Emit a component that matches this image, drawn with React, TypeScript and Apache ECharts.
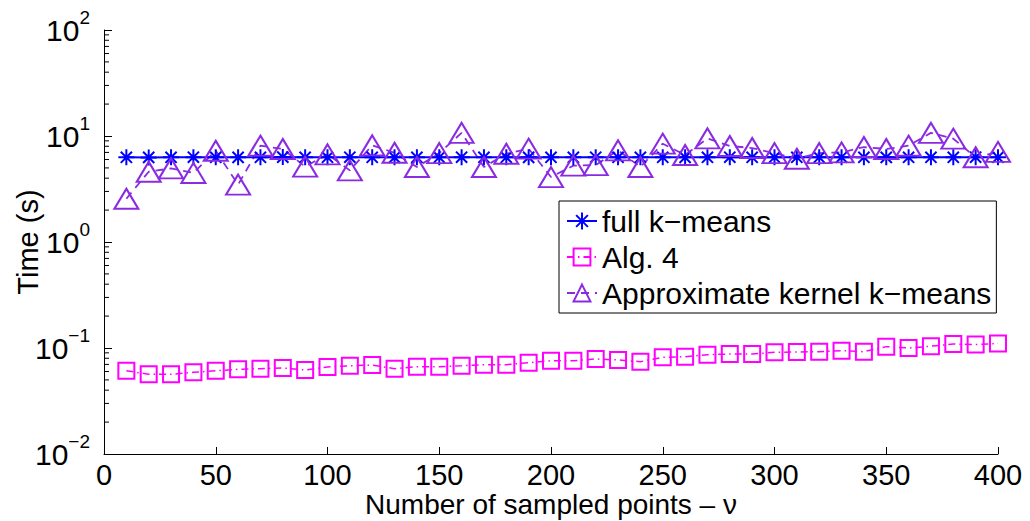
import { useEffect, useRef } from 'react';
import * as echarts from 'echarts';

// Number of sampled points (x axis)
const samplePoints = [
  10, 20, 30, 40, 50, 60, 70, 80, 90, 100,
  110, 120, 130, 140, 150, 160, 170, 180, 190, 200,
  210, 220, 230, 240, 250, 260, 270, 280, 290, 300,
  310, 320, 330, 340, 350, 360, 370, 380, 390, 400,
];

// Running time in seconds
const fullKMeans = [
  6.3, 6.28, 6.3, 6.31, 6.3, 6.29, 6.3, 6.32, 6.3, 6.3,
  6.31, 6.3, 6.29, 6.3, 6.3, 6.31, 6.3, 6.3, 6.29, 6.3,
  6.3, 6.31, 6.3, 6.3, 6.3, 6.29, 6.3, 6.31, 6.3, 6.3,
  6.3, 6.3, 6.31, 6.3, 6.29, 6.3, 6.3, 6.3, 6.31, 6.3,
];

const alg4 = [
  0.061, 0.0565, 0.0565, 0.059, 0.061, 0.063, 0.0638, 0.0648, 0.062, 0.0662,
  0.068, 0.069, 0.0638, 0.0667, 0.0667, 0.068, 0.0696, 0.0696, 0.0727, 0.0759,
  0.0759, 0.0788, 0.0771, 0.0743, 0.0817, 0.0828, 0.0865, 0.0877, 0.0877, 0.091,
  0.0916, 0.0923, 0.0944, 0.0923, 0.103, 0.1, 0.104, 0.109, 0.108, 0.11,
];

const approxKernel = [
  2.56, 4.6, 4.95, 4.48, 7.26, 3.48, 8.1, 7.54, 5.14, 6.72,
  4.74, 8.17, 6.95, 5.1, 6.9, 10.7, 5.1, 6.8, 7.59, 4.1,
  5.25, 5.32, 7.33, 5.1, 8.46, 6.62, 9.5, 8.05, 7.7, 6.9,
  6.1, 6.9, 7.0, 7.87, 7.54, 8.1, 10.7, 9.43, 6.3, 7.07,
];

// Minor ticks of the logarithmic time axis
const minorTickValues = [
  0.02, 0.03, 0.04, 0.05, 0.06, 0.07, 0.08, 0.09,
  0.2, 0.3, 0.4, 0.5, 0.6, 0.7, 0.8, 0.9,
  2, 3, 4, 5, 6, 7, 8, 9,
  20, 30, 40, 50, 60, 70, 80, 90,
];

const seriesNames = ['full k\u2212means', 'Alg. 4', 'Approximate kernel k\u2212means'];

const FONT = "'Liberation Sans', Arial, Helvetica, sans-serif";
const STAR = 'path://M0,-10L0,10M-10,0L10,0M-7,-7L7,7M-7,7L7,-7';

const pairs = (ys: number[]) => samplePoints.map((x, i) => [x, ys[i]]);

export default function App() {
  const ref = useRef<HTMLDivElement>(null);

  useEffect(() => {
    const chart = echarts.init(ref.current!, null, { renderer: 'svg' });
    chart.setOption({
      animation: false,
      backgroundColor: '#ffffff',
      textStyle: { fontFamily: FONT },
      grid: { left: 104, right: 32, top: 30, bottom: 67, containLabel: false, outerBoundsMode: 'none' },
      legend: {
        data: seriesNames,
        orient: 'vertical',
        left: 559,
        top: 201,
        itemWidth: 30,
        itemHeight: 21,
        itemGap: 6,
        padding: [5, 5, 5, 7],
        borderColor: '#000',
        borderWidth: 1,
        backgroundColor: '#fff',
        selectedMode: false,
        textStyle: { fontSize: 30, color: '#000', fontFamily: FONT },
      },
      xAxis: {
        type: 'value',
        min: 0,
        max: 400,
        interval: 50,
        name: 'Number of sampled points \u2013 \u03bd',
        nameLocation: 'middle',
        nameGap: 36,
        nameMoveOverlap: false,
        nameTextStyle: { fontSize: 28, color: '#000', fontFamily: FONT },
        axisLine: { lineStyle: { color: '#000', width: 1 } },
        axisTick: { inside: true, length: 7, lineStyle: { color: '#000' } },
        axisLabel: { fontSize: 29, color: '#000', margin: 6, fontFamily: FONT },
        splitLine: { show: false },
      },
      yAxis: {
        type: 'log',
        logBase: 10,
        min: 0.01,
        max: 100,
        name: 'Time (s)',
        nameLocation: 'middle',
        nameGap: 62,
        nameMoveOverlap: false,
        nameTextStyle: { fontSize: 29, color: '#000', fontFamily: FONT },
        axisLine: { show: true, lineStyle: { color: '#000', width: 1 } },
        axisTick: { inside: true, length: 8, lineStyle: { color: '#000' } },
        axisLabel: {
          margin: 14,
          color: '#000',
          formatter: (v: number) => {
            const e = Math.round(Math.log10(v));
            const sup = e < 0 ? '\u2212' + -e : String(e);
            return `{b|10}{s|${sup}}`;
          },
          rich: {
            b: { fontSize: 30, color: '#000', fontFamily: FONT },
            s: { fontSize: 19, color: '#000', fontFamily: FONT, padding: [0, 0, 26, 0] },
          },
        },
        splitLine: { show: false },
      },
      series: [
        {
          name: seriesNames[0],
          type: 'line',
          data: pairs(fullKMeans),
          symbol: STAR,
          symbolSize: 16,
          lineStyle: { color: '#0000ff', width: 2, type: 'solid' },
          itemStyle: { color: '#0000ff', borderColor: '#0000ff', borderWidth: 2 },
          z: 3,
        },
        {
          name: seriesNames[1],
          type: 'line',
          data: pairs(alg4),
          symbol: 'rect',
          symbolSize: 16,
          lineStyle: { color: '#ff00ff', width: 1.5, type: [7, 4, 1.5, 4] },
          itemStyle: { color: 'rgba(0,0,0,0)', borderColor: '#ff00ff', borderWidth: 2 },
          z: 3,
        },
        {
          name: seriesNames[2],
          type: 'line',
          data: pairs(approxKernel),
          symbol: 'triangle',
          symbolSize: [24, 20],
          lineStyle: { color: '#8a2be2', width: 1.8, type: [8, 6] },
          itemStyle: { color: 'rgba(0,0,0,0)', borderColor: '#8a2be2', borderWidth: 2 },
          z: 3,
        },
        {
          name: 'minor ticks',
          type: 'custom',
          silent: true,
          data: minorTickValues.map((v) => [0, v]),
          renderItem: (_params: any, api: any) => {
            const p = api.coord([0, api.value(1)]);
            return {
              type: 'line',
              shape: { x1: p[0], y1: p[1], x2: p[0] + 5, y2: p[1] },
              style: { stroke: '#000', lineWidth: 1 },
            };
          },
          z: 1,
        },
      ],
    });
    return () => chart.dispose();
  }, []);

  return (
    <div
      ref={ref}
      style={{ position: 'fixed', left: 0, top: 0, width: 1030, height: 521, background: '#fff' }}
    />
  );
}
